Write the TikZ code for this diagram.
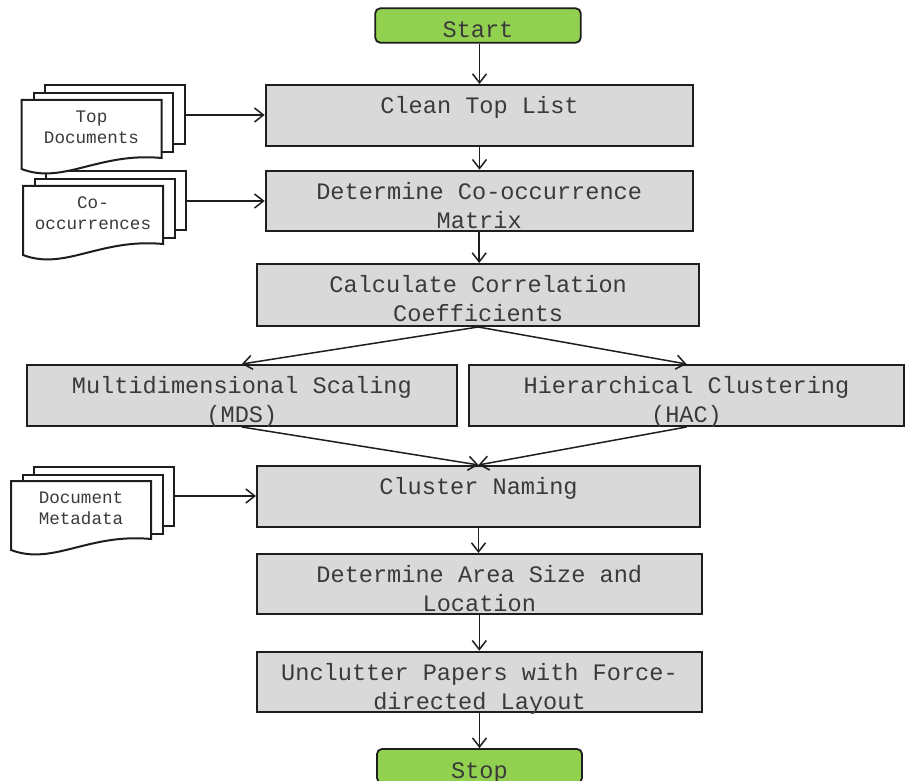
\documentclass[tikz,border=0pt]{standalone}
\usepackage{fontspec}
\setmainfont{Liberation Mono}
\usetikzlibrary{arrows.meta,calc}
\definecolor{boxgray}{HTML}{D9D9D9}
\definecolor{termgreen}{HTML}{92D050}
\definecolor{edgecol}{HTML}{1E1E1E}
\definecolor{txtcol}{HTML}{3A3A3A}
\tikzset{
  proc/.style={draw=edgecol, fill=boxgray, line width=2pt, inner sep=0pt},
  term/.style={draw=edgecol, fill=termgreen, line width=1.8pt, rounded corners=5pt, inner sep=0pt},
  boxtxt/.style={inner sep=0pt, align=center, text=txtcol, anchor=north,
     font=\fontsize{23.6}{29}\selectfont},
  doctxt/.style={inner sep=0pt, align=center, text=txtcol, anchor=north,
     font=\fontsize{17.6}{20.5}\selectfont},
  docpage/.style={draw=edgecol, fill=white, line width=2pt, inner sep=0pt, anchor=north west},
  docline/.style={draw=edgecol, fill=white, line width=2pt, line join=miter},
  conn/.style={draw=edgecol, line width=1.5pt, -{Straight Barb[length=9pt,width=14pt,line width=1.5pt]}},
}
% document stack: name, front-x, front-y, text
\newcommand\mydocstack[4]{%
  \node[docpage, minimum width=140pt, minimum height=59pt] (#1-b) at (#2+22,#3-15.5) {};
  \node[docpage, minimum width=139.5pt, minimum height=59pt] (#1-m) at (#2+11,#3-7.5) {};
  \draw[docline] (#2,#3) -- (#2+140,#3) -- (#2+140,#3+58)
     .. controls (#2+77,#3+52) and (#2+42,#3+85) .. (#2,#3+69) -- cycle;
  \node[doctxt] (#1) at (#2+70,#3+8) {\strut #4};
}
\begin{document}
\begin{tikzpicture}[x=1pt,y=-1pt]
\clip (0,0) rectangle (906,781);
\fill[white] (0,0) rectangle (906,781);

% terminals
\node[term, minimum width=205.5pt, minimum height=34.4pt] (start) at (478,25.5) {};
\node[boxtxt] (start-t) at (478,8.3+8.5) {\strut Start};
\node[term, minimum width=205pt, minimum height=34pt] (stop) at (479.5,766) {};
\node[boxtxt] (stop-t) at (479.5,749+8.5) {\strut Stop};

% process boxes
\node[proc, minimum width=427.6pt, minimum height=61pt] (clean) at (479.5,115.5) {};
\node[boxtxt] (clean-t) at (479.5,85+8.2) {\strut Clean Top List};

\node[proc, minimum width=427pt, minimum height=60.3pt] (cooc) at (479.2,200.85) {};
\node[boxtxt] (cooc-t) at (479.2,170.7+8.2) {\strut Determine Co-occurrence\\Matrix};

\node[proc, minimum width=442.5pt, minimum height=62pt] (corr) at (478.2,295) {};
\node[boxtxt] (corr-t) at (478.2,264+8.2) {\strut Calculate Correlation\\Coefficients};

\node[proc, minimum width=430.3pt, minimum height=61pt] (mds) at (241.85,395.5) {};
\node[boxtxt] (mds-t) at (241.85,365+8.2) {\strut Multidimensional Scaling\\(MDS)};

\node[proc, minimum width=435pt, minimum height=61pt] (hac) at (686.5,395.5) {};
\node[boxtxt] (hac-t) at (686.5,365+8.2) {\strut Hierarchical Clustering\\(HAC)};

\node[proc, minimum width=443pt, minimum height=60.7pt] (cname) at (478.5,496.3) {};
\node[boxtxt] (cname-t) at (478.5,466+8.2) {\strut Cluster Naming};

\node[proc, minimum width=444.7pt, minimum height=60pt] (area) at (479.3,584) {};
\node[boxtxt] (area-t) at (479.3,554+8.2) {\strut Determine Area Size and\\Location};

\node[proc, minimum width=445pt, minimum height=60pt] (uncl) at (479.5,681.7) {};
\node[boxtxt] (uncl-t) at (479.5,651.7+8.2) {\strut Unclutter Papers with Force-\\directed Layout};

% document stacks
\mydocstack{cdocs}{23}{186}{Co-\\occurrences}
\mydocstack{tdocs}{21.5}{100}{Top\\Documents}
\mydocstack{mdocs}{11}{481}{Document\\Metadata}

% connectors
\draw[conn] (start.south -| clean.north) -- (clean.north);
\draw[conn] (clean.south) -- (clean.south |- cooc.north);
\draw[conn] (cooc.south) -- (cooc.south |- corr.north);
\draw[conn] (corr.south) -- (mds.north);
\draw[conn] (corr.south) -- (hac.north);
\draw[conn] (mds.south) -- (cname.north);
\draw[conn] (hac.south) -- (cname.north);
\draw[conn] (cname.south) -- (cname.south |- area.north);
\draw[conn] (area.south) -- (area.south |- uncl.north);
\draw[conn] (uncl.south) -- (uncl.south |- stop.north);

\draw[conn] (tdocs-b.east) -- (tdocs-b.east -| clean.west);
\draw[conn] (cdocs-b.east) -- (cdocs-b.east -| cooc.west);
\draw[conn] (mdocs-b.east) -- (mdocs-b.east -| cname.west);
\end{tikzpicture}
\end{document}
